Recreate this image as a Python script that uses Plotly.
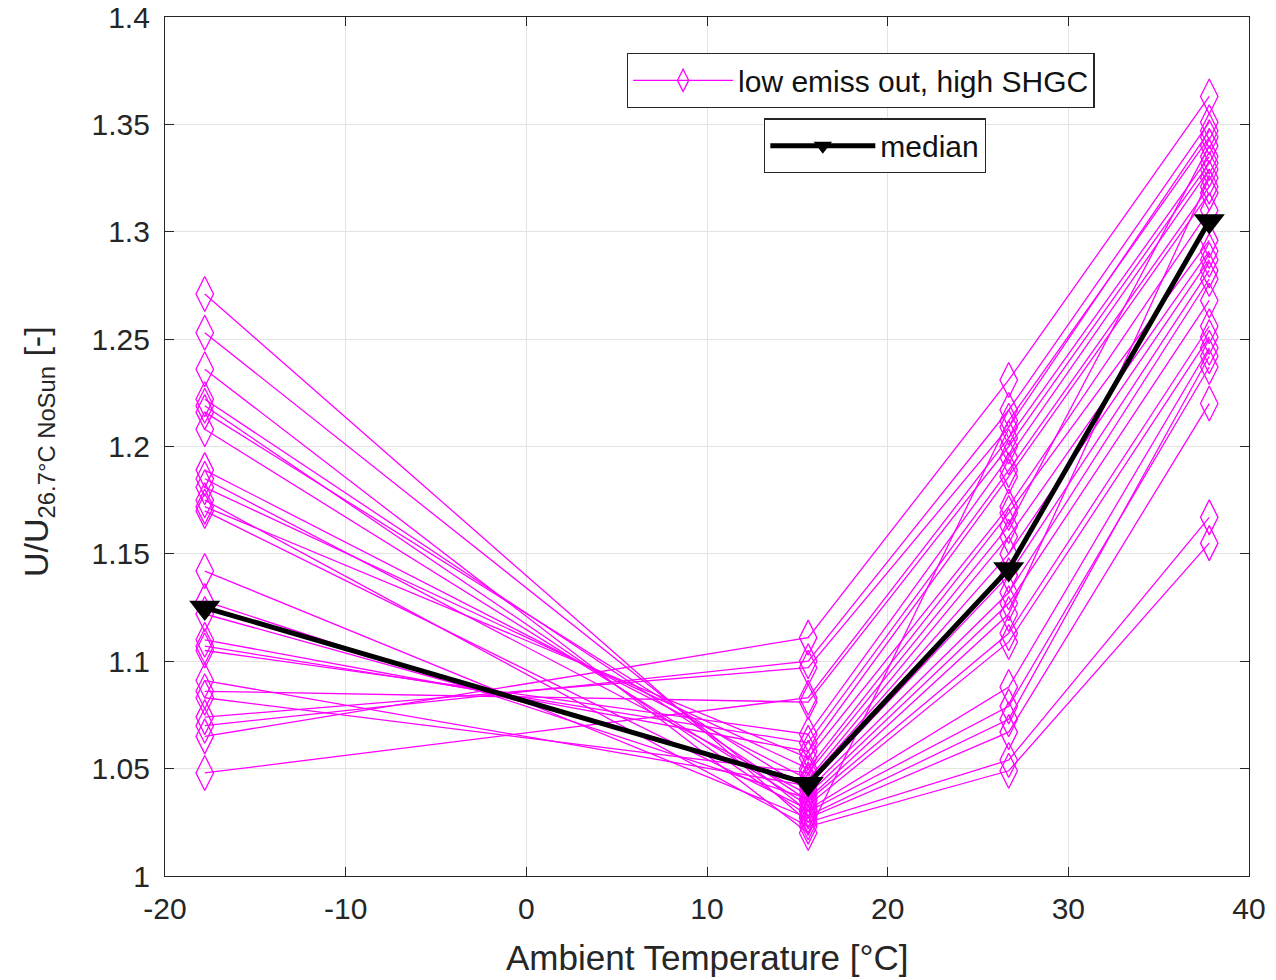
import plotly.graph_objects as go

# Ambient temperatures [°C]
temps = [-17.8, 15.6, 26.7, 37.8]

# U/U(26.7°C NoSun) of each configuration at each ambient temperature
u_m178 = [1.271, 1.253, 1.236, 1.222, 1.219, 1.216, 1.208, 1.189, 1.185, 1.181, 1.175, 1.172, 1.170,
          1.142, 1.128, 1.110, 1.107, 1.105, 1.091, 1.086, 1.083, 1.074, 1.070, 1.065, 1.048, 1.122]
u_156 = [1.025, 1.030, 1.020, 1.035, 1.028, 1.040, 1.033, 1.045, 1.038, 1.050, 1.023, 1.055, 1.031,
         1.027, 1.036, 1.058, 1.062, 1.066, 1.042, 1.081, 1.048, 1.097, 1.100, 1.111, 1.083, 1.044]
u_267 = [1.054, 1.079, 1.212, 1.113, 1.073, 1.132, 1.109, 1.158, 1.127, 1.169, 1.049, 1.172, 1.088,
         1.067, 1.122, 1.186, 1.189, 1.195, 1.140, 1.200, 1.163, 1.209, 1.217, 1.231, 1.204, 1.150]
u_378 = [1.167, 1.237, 1.344, 1.256, 1.242, 1.278, 1.251, 1.291, 1.268, 1.296, 1.155, 1.310, 1.246,
         1.220, 1.325, 1.318, 1.321, 1.329, 1.282, 1.332, 1.340, 1.347, 1.351, 1.363, 1.335, 1.287]

median = [1.125, 1.043, 1.143, 1.305]

x_ticks = [-20, -10, 0, 10, 20, 30, 40]
x_ticktext = ["-20", "-10", "0", "10", "20", "30", "40"]
y_ticks = [1.0, 1.05, 1.1, 1.15, 1.2, 1.25, 1.3, 1.35, 1.4]
y_ticktext = ["1", "1.05", "1.1", "1.15", "1.2", "1.25", "1.3", "1.35", "1.4"]

MAG = "#FF00FF"
FONT = "Liberation Sans, Arial, sans-serif"
TXT = "#262626"

fig = go.Figure()
for i in range(len(u_m178)):
    fig.add_trace(go.Scatter(
        x=temps, y=[u_m178[i], u_156[i], u_267[i], u_378[i]],
        mode="lines+markers",
        line=dict(color=MAG, width=1.3),
        marker=dict(symbol="diamond-tall-open", size=25, color=MAG, line=dict(width=1.3, color=MAG)),
        name="low emiss out, high SHGC",
        showlegend=(i == 0),
        legend="legend",
    ))

fig.add_trace(go.Scatter(
    x=temps, y=median,
    mode="lines+markers",
    line=dict(color="black", width=5),
    marker=dict(symbol="triangle-down", size=27, color="black"),
    name="median",
    legend="legend2",
))

axis_common = dict(
    showgrid=True, gridcolor="#E3E3E3", gridwidth=1,
    zeroline=False, showline=True, linecolor=TXT, linewidth=1.3, mirror="ticks",
    ticks="inside", ticklen=9, tickcolor=TXT, automargin=False,
    tickfont=dict(family=FONT, size=30, color=TXT),
)

fig.update_layout(
    width=1276, height=980,
    margin=dict(l=165, r=27, t=17, b=104),
    paper_bgcolor="white", plot_bgcolor="white",
    font=dict(family=FONT, color=TXT),
    xaxis=dict(range=[-20, 40], tickvals=x_ticks, ticktext=x_ticktext, ticklabelstandoff=6,
               **axis_common),
    yaxis=dict(range=[1.0, 1.4], tickvals=y_ticks, ticktext=y_ticktext, ticklabelstandoff=8,
               **axis_common),
    legend=dict(x=0.426, y=0.958, xanchor="left", yanchor="top",
                bgcolor="white", bordercolor=TXT, borderwidth=1.3,
                font=dict(family=FONT, size=30, color="#111111"), itemwidth=100),
    legend2=dict(x=0.5526, y=0.882, xanchor="left", yanchor="top",
                 bgcolor="white", bordercolor=TXT, borderwidth=1.3,
                 font=dict(family=FONT, size=30, color="#111111"), itemwidth=105),
    annotations=[
        dict(text="Ambient Temperature [°C]", x=0.5, y=0, xref="paper", yref="paper",
             showarrow=False, font=dict(family=FONT, size=35, color=TXT),
             xanchor="center", yanchor="middle"),
        dict(text="U/U<sub>26.7°C NoSun</sub> [-]", x=0, y=0.5, xref="paper", yref="paper",
             showarrow=False, textangle=-90, font=dict(family=FONT, size=34, color=TXT),
             xanchor="center", yanchor="middle"),
    ],
)

# place axis-title annotations in pixel terms relative to the plot area
plot_l, plot_r, plot_t, plot_b = 165, 1249, 17, 876
fig.layout.annotations[0].y = -(957 - plot_b) / (plot_b - plot_t)
fig.layout.annotations[0].x = (707 - plot_l) / (plot_r - plot_l)
fig.layout.annotations[1].x = -(plot_l - 38) / (plot_r - plot_l)
fig.layout.annotations[1].y = 1 - (452 - plot_t) / (plot_b - plot_t)

fig.write_html("out.html")
